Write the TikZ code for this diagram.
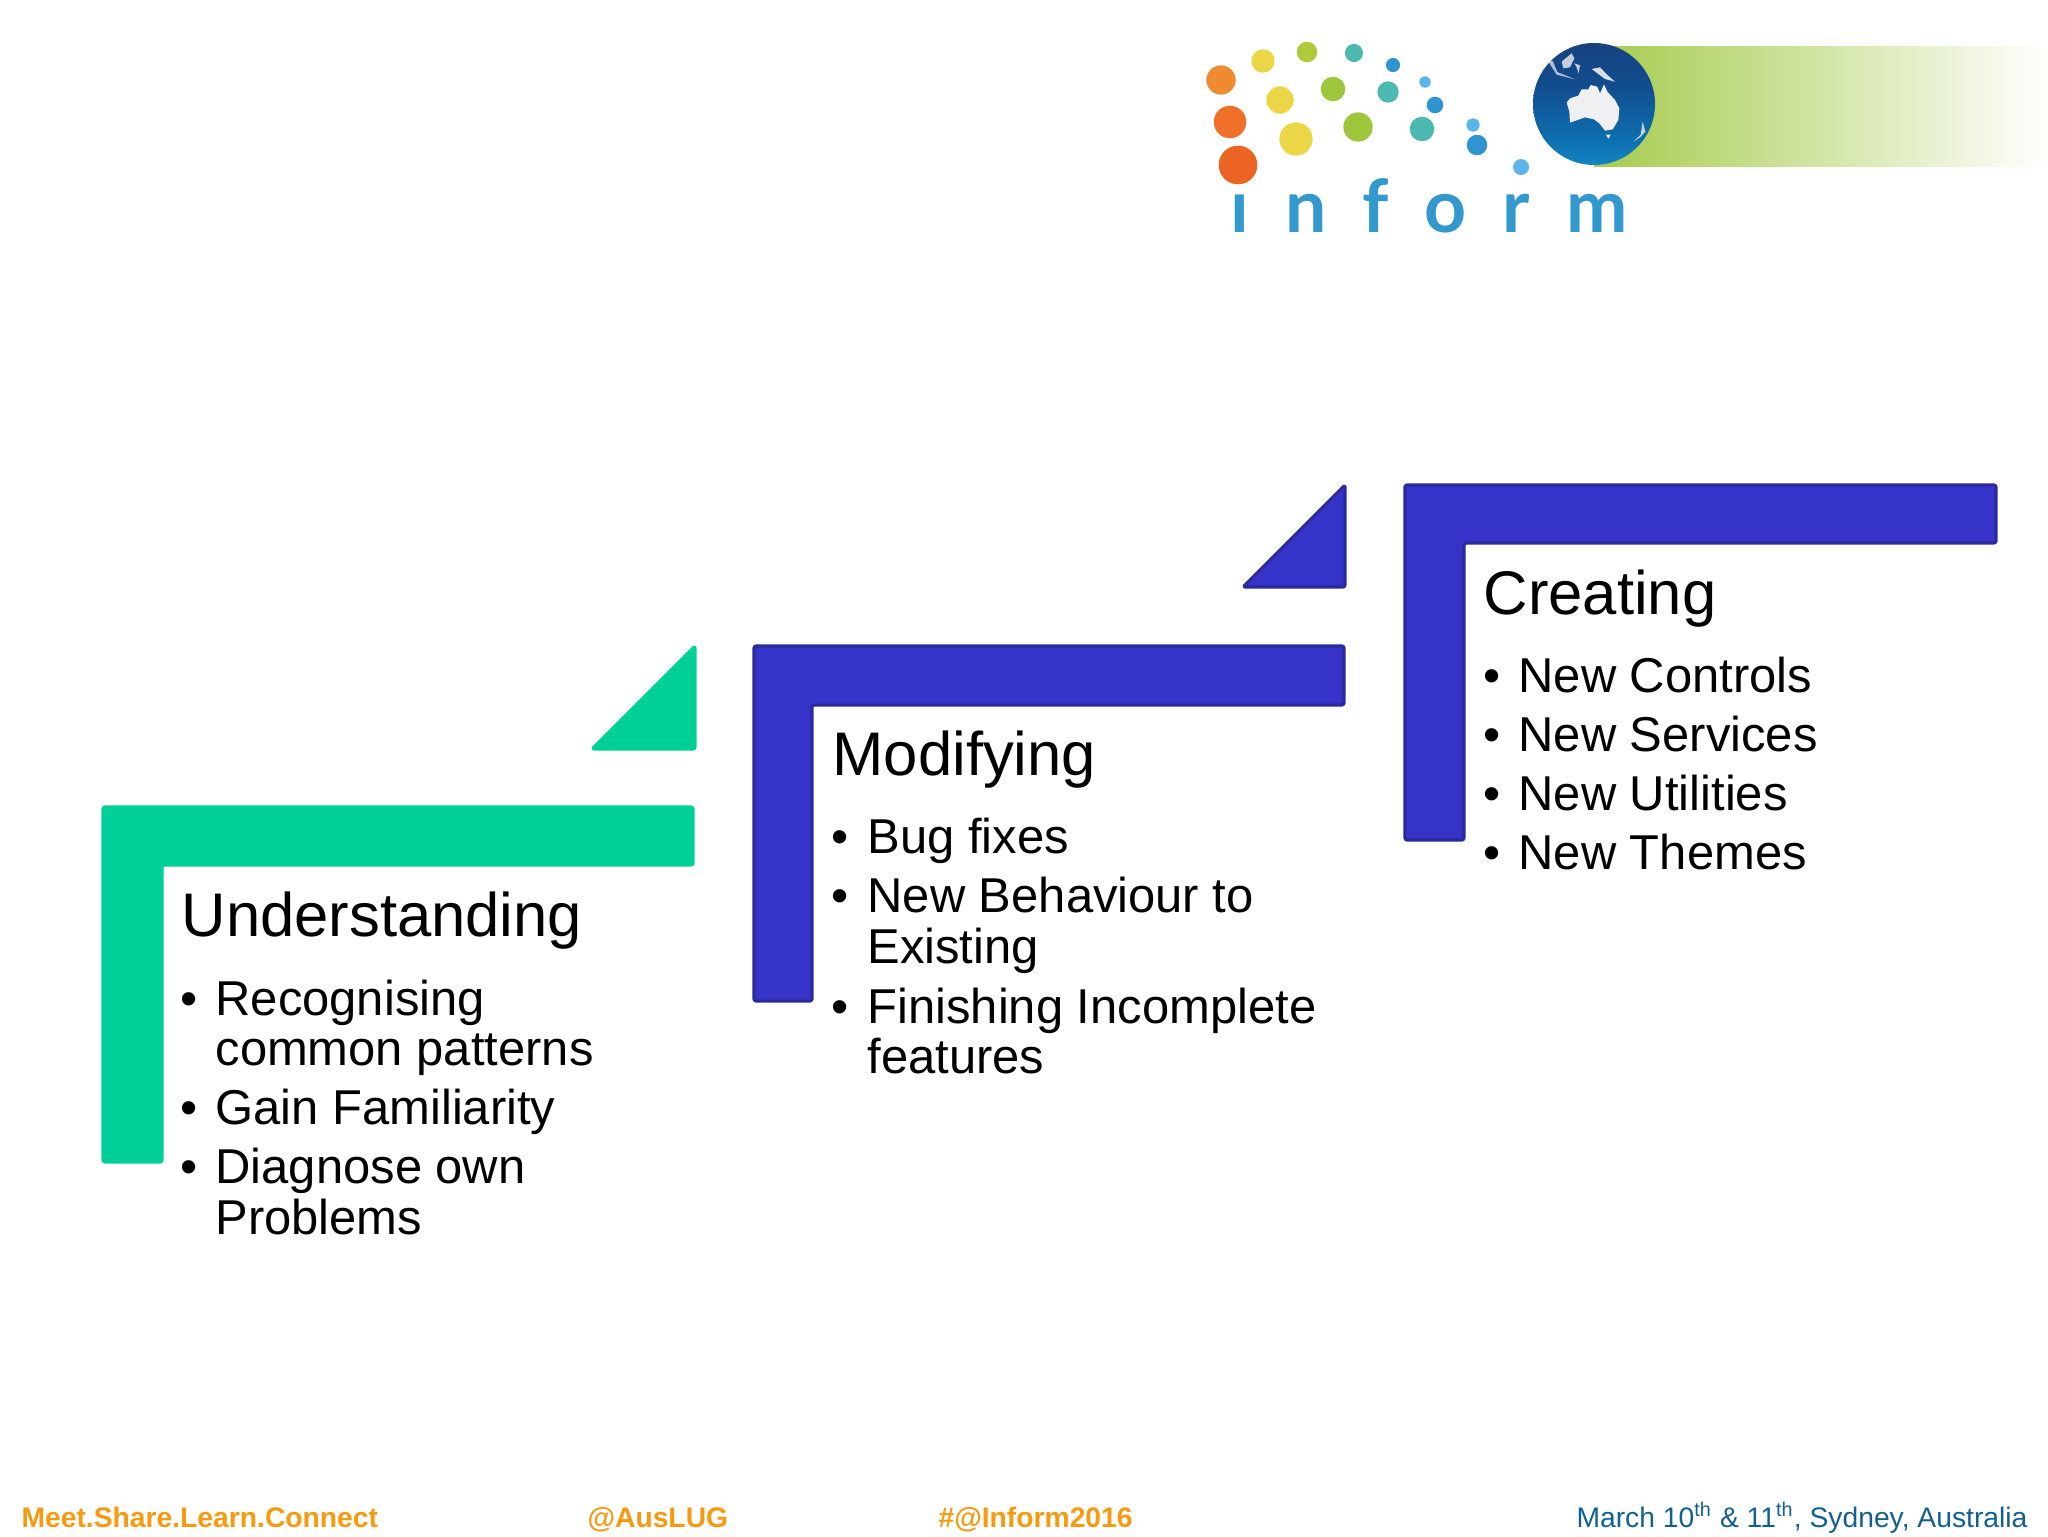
\documentclass[tikz,border=0pt]{standalone}
\usepackage{fontspec}
\setmainfont{Liberation Sans}
\newfontfamily\logofont[LetterSpace=49.5]{Lato}
\definecolor{stepgreen}{HTML}{00CF98}
\definecolor{stepblue}{HTML}{3633C9}
\definecolor{stepedge}{HTML}{2B2A9C}
\definecolor{footorange}{HTML}{F79A12}
\definecolor{footblue}{HTML}{12608F}
\definecolor{logoblue}{HTML}{3398CE}
\definecolor{bandgreen}{HTML}{A6CB4D}
\definecolor{dotA}{HTML}{F08A30}
\definecolor{dotB}{HTML}{F07029}
\definecolor{dotC}{HTML}{EC6423}
\definecolor{dotD}{HTML}{EBD648}
\definecolor{dotE}{HTML}{AEC93A}
\definecolor{dotF}{HTML}{9DC63C}
\definecolor{dotG}{HTML}{4DB8B0}
\definecolor{dotH}{HTML}{2F94D0}
\definecolor{dotI}{HTML}{5BB5E8}
\definecolor{globeA}{HTML}{5CC4EE}
\definecolor{globeB}{HTML}{1C9AD6}
\definecolor{globeC}{HTML}{0D6EAE}
\definecolor{globeD}{HTML}{124C8E}
\definecolor{globeE}{HTML}{1B3A78}
\definecolor{globeF}{HTML}{3F64A4}
\definecolor{landgrey}{HTML}{EEF0F2}
\pgfdeclareverticalshading{globeshade}{100bp}{
  color(0bp)=(globeA); color(14bp)=(globeB); color(36bp)=(globeC);
  color(58bp)=(globeD); color(85bp)=(globeE); color(100bp)=(globeF)}
\tikzset{
  stepshape/.style={line width=1.2pt, line join=round, rounded corners=.8pt},
  greenstep/.style={stepshape, draw=stepgreen, fill=stepgreen},
  bluestep/.style={stepshape, draw=stepedge, fill=stepblue},
  heading/.style={anchor=base west, inner sep=0pt, font=\fontsize{23.1}{23.1}\selectfont},
  entry/.style={anchor=base west, inner sep=0pt, font=\fontsize{18.35}{18.35}\selectfont},
  footleft/.style={anchor=base west, inner sep=0pt, text=footorange, font=\fontsize{10.6}{10.6}\selectfont\bfseries},
  footright/.style={anchor=base east, inner sep=0pt, text=footblue, font=\fontsize{10.6}{10.6}\selectfont},
  dot/.style={circle, inner sep=0pt}
}
\begin{document}
\begin{tikzpicture}[x=.375pt, y=-.375pt]
    \useasboundingbox (0,0) rectangle (2048,1536);
    % logo band and globe
    \shade[left color=bandgreen, right color=white, middle color=bandgreen!50!white] (1594,46) rectangle (2048,166);
    \begin{scope}
        \clip (1594,104) circle[radius=61];
        \shade[shading=globeshade] (1533,43) rectangle (1655,165);
    \end{scope}
    \begin{scope}[shift={(1520,30)}, x=.125pt, y=-.125pt]
        \fill[landgrey] (140,218) -- (150,205) -- (175,197) -- (185,178) -- (205,178) -- (212,165) -- (232,170) -- (240,190) -- (252,163) -- (262,185) -- (285,210) -- (298,235) -- (295,270) -- (278,298) -- (255,302) -- (238,280) -- (222,268) -- (195,262) -- (150,278) -- (148,245) -- cycle;
        \fill[landgrey] (258,314) -- (272,314) -- (265,326) -- cycle;
        \fill[landgrey, opacity=.8] (340,335) -- (362,314) -- (368,275) -- (376,305) -- (360,322) -- cycle;
        \fill[landgrey, opacity=.9] (215,117) -- (240,112) -- (262,135) -- (285,155) -- (255,147) -- cycle;
        \fill[landgrey, opacity=.8] (125,95) -- (155,70) -- (163,85) -- (150,112) -- (130,115) -- cycle;
        \fill[landgrey, opacity=.7] (85,95) -- (98,92) -- (112,126) -- (165,148) -- (110,134) -- cycle;
        \fill[landgrey, opacity=.8] (163,100) -- (180,106) -- (176,130) -- (170,112) -- cycle;
    \end{scope}
    % logo dots
    \node[dot, fill=dotA, minimum size=11pt] (d0) at (1221,80) {};
    \node[dot, fill=dotB, minimum size=12.2pt] (d1) at (1230,122) {};
    \node[dot, fill=dotC, minimum size=14.5pt] (d2) at (1238,165) {};
    \node[dot, fill=dotD, minimum size=8.8pt] (d3) at (1263,61) {};
    \node[dot, fill=dotD, minimum size=10.3pt] (d4) at (1280,100) {};
    \node[dot, fill=dotD, minimum size=12.5pt] (d5) at (1296,139) {};
    \node[dot, fill=dotE, minimum size=7.7pt] (d6) at (1307,52) {};
    \node[dot, fill=dotF, minimum size=9.2pt] (d7) at (1333,89) {};
    \node[dot, fill=dotF, minimum size=11pt] (d8) at (1358,127) {};
    \node[dot, fill=dotG, minimum size=6.8pt] (d9) at (1354,53) {};
    \node[dot, fill=dotG, minimum size=8pt] (d10) at (1388,92) {};
    \node[dot, fill=dotG, minimum size=9.2pt] (d11) at (1422,129) {};
    \node[dot, fill=dotH, minimum size=5.3pt] (d12) at (1393,65) {};
    \node[dot, fill=dotH, minimum size=6.2pt] (d13) at (1435,105) {};
    \node[dot, fill=dotH, minimum size=7.7pt] (d14) at (1477,145) {};
    \node[dot, fill=dotI, minimum size=4.3pt] (d15) at (1425,82) {};
    \node[dot, fill=dotI, minimum size=5pt] (d16) at (1473,125) {};
    \node[dot, fill=dotI, minimum size=6pt] (d17) at (1521,167) {};
    \node[anchor=base west, inner sep=0pt, text=logoblue, font=\fontsize{27.5}{27.5}\selectfont\logofont\bfseries] (logo) at (1230,232) {ınform};
    % steps
    \draw[greenstep] (103,807) -- (693,807) -- (693,865) -- (162,865) -- (162,1162) -- (103,1162) -- cycle;
    \draw[greenstep] (695,646) -- (695,749) -- (592,749) -- cycle;
    \draw[bluestep] (754,646) -- (1344,646) -- (1344,705) -- (812,705) -- (812,1001) -- (754,1001) -- cycle;
    \draw[bluestep] (1345,485) -- (1345,587) -- (1243,587) -- cycle;
    \draw[bluestep] (1405,485) -- (1996,485) -- (1996,543) -- (1464,543) -- (1464,840) -- (1405,840) -- cycle;
    % first column
    \node[heading] (understanding) at (181,936) {Understanding};
    \node[entry] (u0) at (180,1015) {•};
    \node[entry] (u1) at (215,1015) {Recognising};
    \node[entry] (u2) at (215,1065) {common patterns};
    \node[entry] (u3) at (180,1124) {•};
    \node[entry] (u4) at (215,1124) {Gain Familiarity};
    \node[entry] (u5) at (180,1183) {•};
    \node[entry] (u6) at (215,1183) {Diagnose own};
    \node[entry] (u7) at (215,1234) {Problems};
    % second column
    \node[heading] (modifying) at (832,775) {Modifying};
    \node[entry] (m0) at (831,853) {•};
    \node[entry] (m1) at (867,853) {Bug fixes};
    \node[entry] (m2) at (831,912) {•};
    \node[entry] (m3) at (867,912) {New Behaviour to};
    \node[entry] (m4) at (867,963) {Existing};
    \node[entry] (m5) at (831,1023) {•};
    \node[entry] (m6) at (867,1023) {Finishing Incomplete};
    \node[entry] (m7) at (867,1073) {features};
    % third column
    \node[heading] (creating) at (1483,614) {Creating};
    \node[entry] (c0) at (1483,692) {•};
    \node[entry] (c1) at (1518,692) {New Controls};
    \node[entry] (c2) at (1483,751) {•};
    \node[entry] (c3) at (1518,751) {New Services};
    \node[entry] (c4) at (1483,810) {•};
    \node[entry] (c5) at (1518,810) {New Utilities};
    \node[entry] (c6) at (1483,869) {•};
    \node[entry] (c7) at (1518,869) {New Themes};
    % footer
    \node[footleft] (meet) at (21,1527) {Meet.Share.Learn.Connect};
    \node[footleft] (aus) at (587,1527) {@AusLUG};
    \node[footleft] (tag) at (938,1527) {\#@Inform2016};
    \node[footright] (date) at (2028,1527) {March 10\textsuperscript{th} \& 11\textsuperscript{th}, Sydney, Australia};
\end{tikzpicture}
\end{document}
